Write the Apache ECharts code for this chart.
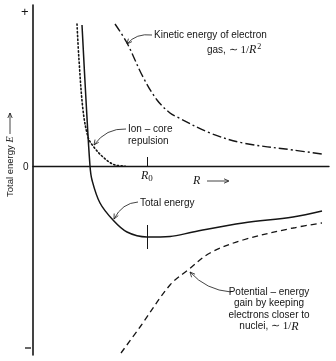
<!DOCTYPE html>
<html><head><meta charset="utf-8">
<script src="https://cdn.jsdelivr.net/npm/echarts@6/dist/echarts.min.js"></script>
<style>html,body{margin:0;padding:0;background:#fff}#c{width:336px;height:361px}</style>
</head><body><div id="c"></div>
<script>
// Total energy (solid)
const totalR = [0.49, 0.53, 0.57, 0.59, 0.67, 0.80, 0.94, 1.14, 1.37, 1.60, 2.10, 2.60, 2.89];
const totalE = [1.41, 0.66, 0.00, -0.14, -0.37, -0.54, -0.66, -0.71, -0.705, -0.66, -0.57, -0.51, -0.45];
// Ion-core repulsion (dotted)
const ionR = [0.44, 0.46, 0.50, 0.55, 0.60, 0.70, 0.82, 0.92];
const ionE = [1.42, 1.06, 0.56, 0.29, 0.20, 0.09, 0.01, 0.00];
// Kinetic energy of electron gas (dash-dot)
const kinR = [0.82, 0.94, 1.10, 1.24, 1.37, 1.44, 1.77, 2.10, 2.60, 2.89];
const kinE = [1.42, 1.23, 0.89, 0.66, 0.53, 0.49, 0.33, 0.23, 0.16, 0.12];
// Potential-energy gain (dashed)
const potR = [0.88, 1.07, 1.37, 1.55, 1.77, 2.10, 2.60, 2.89];
const potE = [-1.87, -1.61, -1.19, -1.04, -0.87, -0.74, -0.62, -0.57];
// Equilibrium separation R0 and minimum energy
const R0 = 1.14;
const R0TickTop = 0.09;
const minTick = [-0.59, -0.83];
const yMin = -1.89, yMax = 1.61, xMin = 0, xMax = 2.96;

const zip = (a, b) => a.map((v, i) => [v, b[i]]);
const INK = '#151515';
const SANS = '"Liberation Sans", Arial, sans-serif';
const SERIF = '"Liberation Serif", "Times New Roman", serif';

function leader(x0, y0, cx, cy, x1, y1) {
  const dx = x1 - cx, dy = y1 - cy, L = Math.hypot(dx, dy);
  const ux = dx / L, uy = dy / L, len = 5, w = 2.3;
  const bx = x1 - ux * len, by = y1 - uy * len;
  return [
    { type: 'bezierCurve', shape: { x1: x0, y1: y0, cpx1: cx, cpy1: cy, x2: x1, y2: y1 },
      style: { stroke: INK, lineWidth: 0.8, fill: null }, silent: true },
    { type: 'polyline', shape: { points: [[bx - uy * w, by + ux * w], [x1, y1], [bx + uy * w, by - ux * w]] },
      style: { stroke: INK, lineWidth: 0.8, fill: null }, silent: true }
  ];
}
function txt(x, y, text, opts) {
  return Object.assign({ type: 'text', x: x, y: y, silent: true,
    style: Object.assign({ text: text, fill: INK, font: '10px ' + SANS, textVerticalAlign: 'middle' }, opts || {}) });
}
const rich = {
  i: { fontFamily: SERIF, fontStyle: 'italic', fontSize: 12, fill: INK },
  sup: { fontFamily: SERIF, fontSize: 8, verticalAlign: 'top', padding: [0, 0, 6, 1], fill: INK },
  sub: { fontFamily: SERIF, fontSize: 9, padding: [5, 0, 0, 0], fill: INK },
  n: { fontFamily: SERIF, fontSize: 11, fill: INK }
};

const chart = echarts.init(document.getElementById('c'), null, { renderer: 'canvas' });
chart.setOption({
  backgroundColor: '#ffffff',
  animation: false,
  grid: { left: 33, right: 7, top: 5, bottom: 6 },
  xAxis: { type: 'value', min: xMin, max: xMax,
    axisLine: { onZero: true, lineStyle: { color: INK, width: 1.4 } },
    axisTick: { show: false }, axisLabel: { show: false }, splitLine: { show: false } },
  yAxis: { type: 'value', min: yMin, max: yMax,
    axisLine: { show: true, lineStyle: { color: INK, width: 1.6 } },
    axisTick: { show: false }, axisLabel: { show: false }, splitLine: { show: false } },
  series: [
    { type: 'line', data: zip(totalR, totalE), smooth: 0.35, showSymbol: false,
      lineStyle: { color: INK, width: 1.5 },
      markLine: { silent: true, symbol: 'none', label: { show: false },
        lineStyle: { color: INK, width: 1, type: 'solid' },
        data: [
          [{ coord: [R0, 0] }, { coord: [R0, R0TickTop] }],
          [{ coord: [R0, minTick[0]] }, { coord: [R0, minTick[1]] }]
        ] } },
    { type: 'line', data: zip(ionR, ionE), smooth: 0.35, showSymbol: false,
      lineStyle: { color: INK, width: 1.6, type: [1.4, 2.4], cap: 'round' } },
    { type: 'line', data: zip(kinR, kinE), smooth: 0.35, showSymbol: false,
      lineStyle: { color: INK, width: 1.4, type: [9, 3, 2, 3] } },
    { type: 'line', data: zip(potR, potE), smooth: 0.35, showSymbol: false,
      lineStyle: { color: INK, width: 1.3, type: [6, 4] } }
  ],
  graphic: [
    txt(21, 12, '+', { font: '13px ' + SANS }),
    txt(23, 167, '0', { font: '10px ' + SANS }),
    { type: 'line', shape: { x1: 25, y1: 348, x2: 31, y2: 348 }, style: { stroke: INK, lineWidth: 1.3 }, silent: true },
    // y axis title
    { type: 'group', x: 10, y: 197, rotation: Math.PI / 2, silent: true, children: [
      { type: 'text', x: 0, y: 0, style: { text: 'Total energy {i|E}', rich: { i: { fontFamily: SERIF, fontStyle: 'italic', fontSize: 10, fill: INK } },
        font: '9.5px ' + SANS, fill: INK, textVerticalAlign: 'middle', textAlign: 'left' } }
    ] },
    { type: 'line', shape: { x1: 10, y1: 134, x2: 10, y2: 113 }, style: { stroke: INK, lineWidth: 0.8 }, silent: true },
    { type: 'polyline', shape: { points: [[7.8, 118], [10, 113], [12.2, 118]] }, style: { stroke: INK, lineWidth: 0.8, fill: null }, silent: true },
    // R0 and R axis labels
    txt(141, 176, '{i|R}{sub|0}', { rich: rich }),
    txt(193, 181, '{i|R}', { rich: rich }),
    { type: 'line', shape: { x1: 207, y1: 181, x2: 228, y2: 181 }, style: { stroke: INK, lineWidth: 0.8 }, silent: true },
    { type: 'polyline', shape: { points: [[224, 178.8], [229, 181], [224, 183.2]] }, style: { stroke: INK, lineWidth: 0.8, fill: null }, silent: true },
    // annotations
    txt(154, 35, 'Kinetic energy of electron'),
    txt(207, 50, 'gas, {n|∼} {n|1/}{i|R}{sup|2}', { rich: rich }),
    txt(128, 129, 'Ion – core'),
    txt(128, 141, 'repulsion'),
    txt(140, 203, 'Total energy'),
    txt(269, 292, 'Potential – energy', { textAlign: 'center' }),
    txt(269, 303.5, 'gain by keeping', { textAlign: 'center' }),
    txt(269, 315, 'electrons closer to', { textAlign: 'center' }),
    txt(269, 326.5, 'nuclei, {n|∼} {n|1/}{i|R}', { textAlign: 'center', rich: rich })
  ]
    .concat(leader(152, 35, 136, 33, 127, 44))
    .concat(leader(126, 129, 106, 128, 94, 145))
    .concat(leader(138, 202, 122, 203, 114, 219))
    .concat(leader(231, 292, 206, 290, 190, 272))
});
</script></body></html>
